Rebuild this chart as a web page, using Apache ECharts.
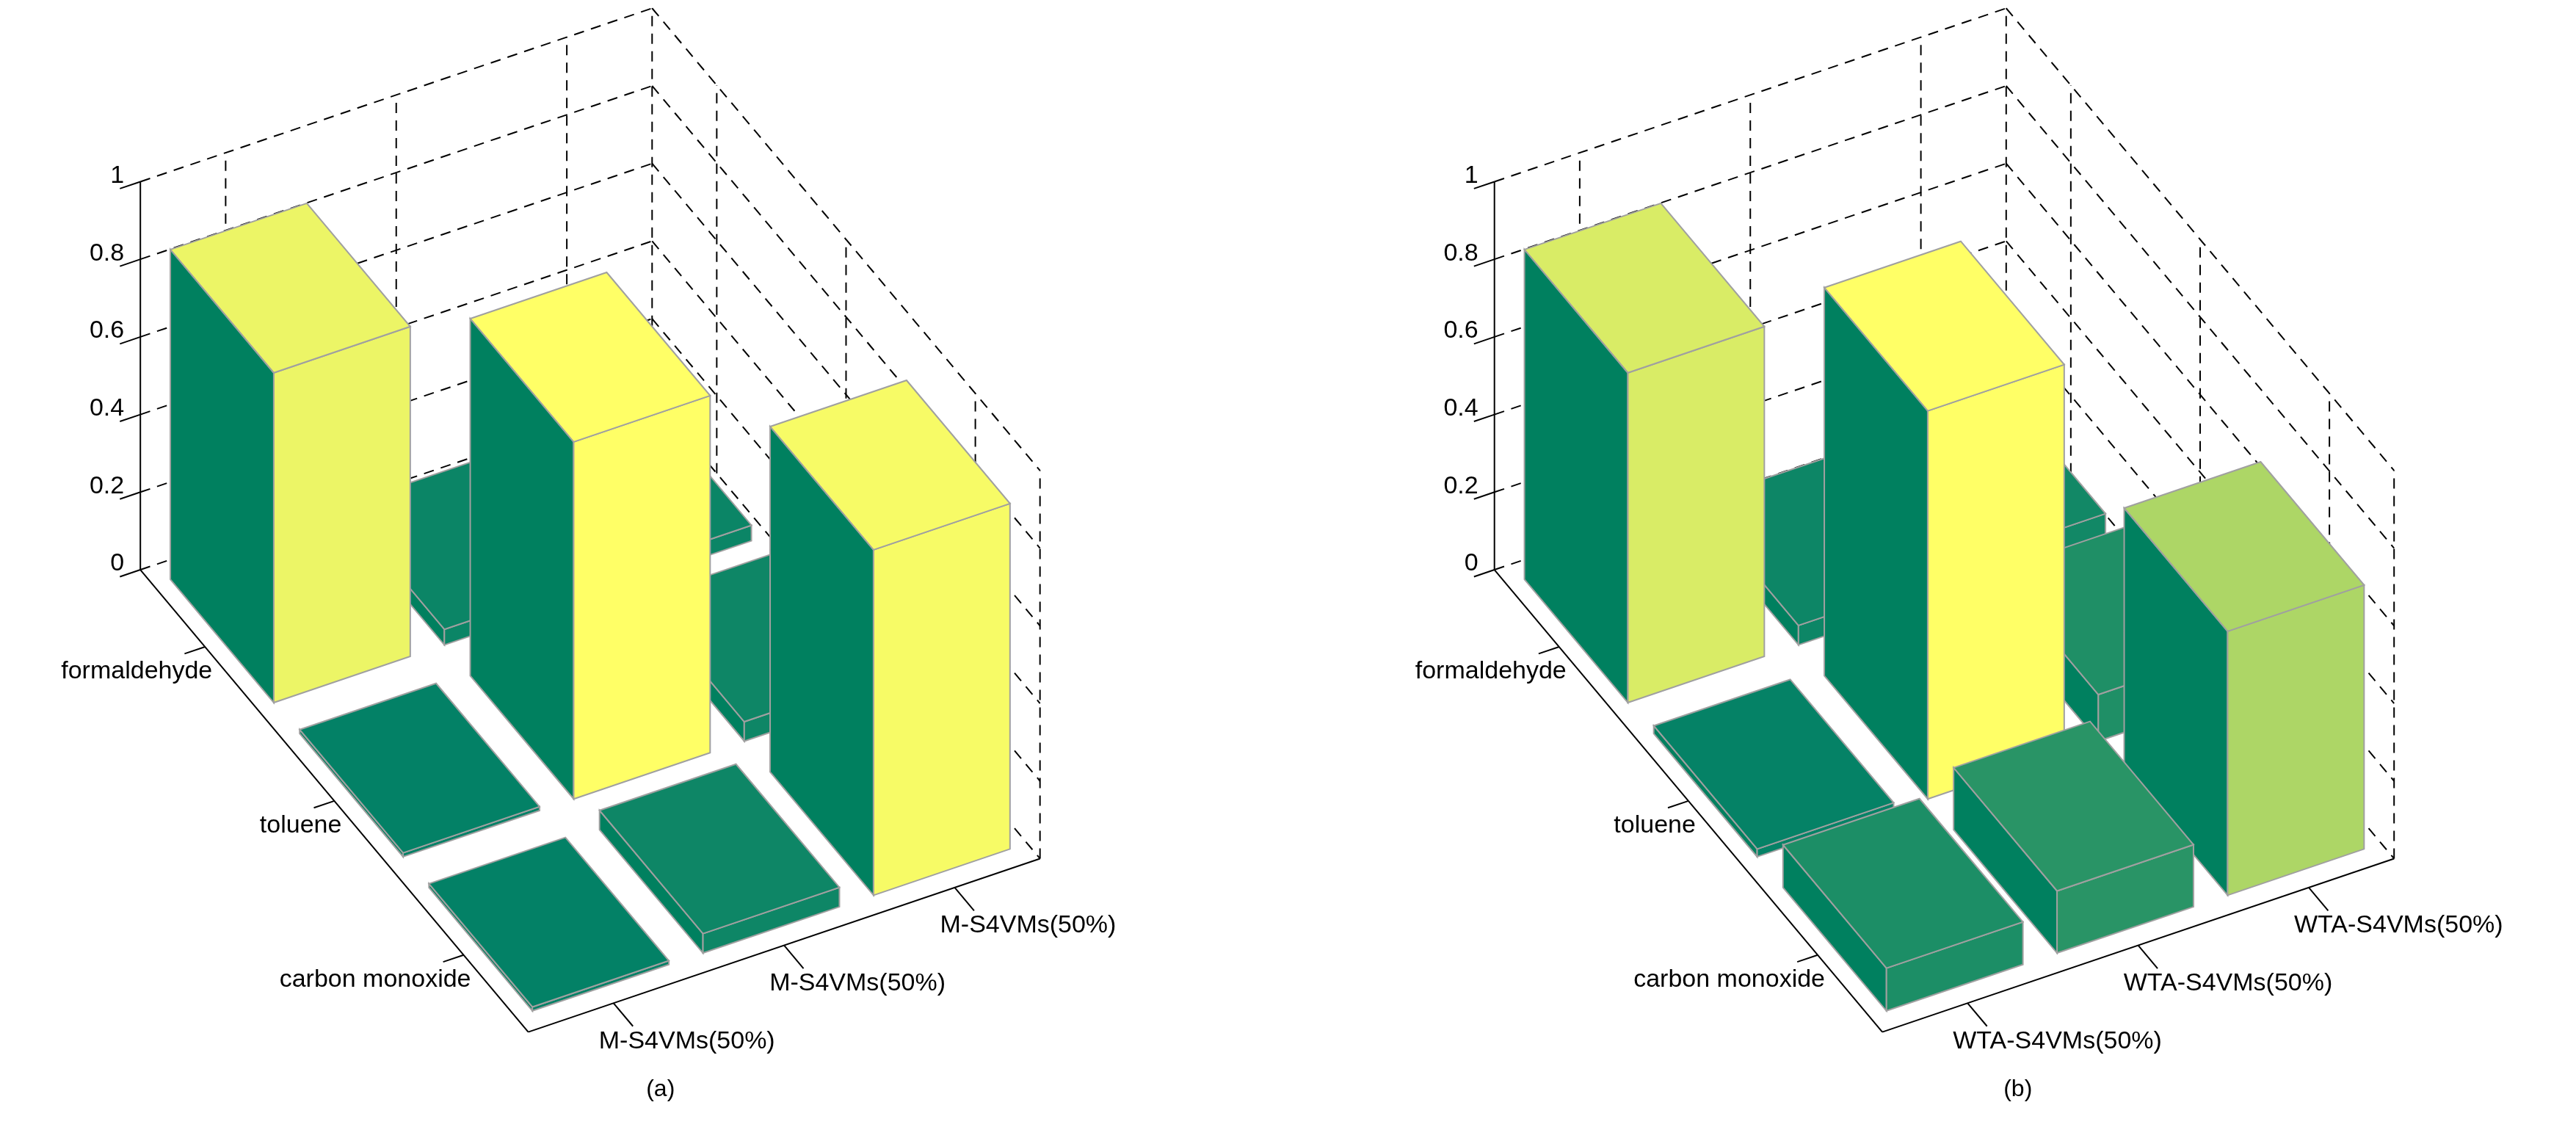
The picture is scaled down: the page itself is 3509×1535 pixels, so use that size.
<!DOCTYPE html>
<html>
<head>
<meta charset="utf-8">
<script src="https://cdn.jsdelivr.net/npm/echarts@6/dist/echarts.min.js"></script>
<style>html,body{margin:0;padding:0;background:#fff}#main{width:3509px;height:1535px}</style>
</head>
<body>
<div id="main"></div>
<script>
// data
var rowNames = ['formaldehyde', 'toluene', 'carbon monoxide'];
var colNamesA = ['M-S4VMs(50%)', 'M-S4VMs(50%)', 'M-S4VMs(50%)'];
var colNamesB = ['WTA-S4VMs(50%)', 'WTA-S4VMs(50%)', 'WTA-S4VMs(50%)'];
var zTicks = [0, 0.2, 0.4, 0.6, 0.8, 1];
// values[row][col]
var valuesA = [
    [0.85, 0.04, 0.04],
    [0.01, 0.92, 0.05],
    [0.01, 0.05, 0.89]
];
var valuesB = [
    [0.85, 0.05, 0.07],
    [0.02, 1.00, 0.12],
    [0.11, 0.16, 0.68]
];

var S = 2.2494;
var FONT = '"Liberation Sans", Arial, sans-serif';

function makeProj(ox, oy) {
    return function(c, r, z) {
        return [S * (ox + c * 103.3 + r * 78.3), S * (oy - c * 35 + r * 93.3 - z * 235)];
    };
}

// summer colormap
function summer(v) {
    v = Math.max(0, Math.min(1, v));
    return 'rgb(' + Math.round(255 * v) + ',' + Math.round(255 * (0.5 + 0.5 * v)) + ',102)';
}

function frame(P, colNames, caption, cx) {
    var els = [];
    var dash = {stroke: '#000', lineWidth: 2, lineDash: [14, 10]};
    function seg(a, b, st) {
        els.push({type: 'line', z: 0, shape: {x1: a[0], y1: a[1], x2: b[0], y2: b[1]}, style: st});
    }
    var solid = {stroke: '#000', lineWidth: 2};
    zTicks.forEach(function(t) {
        if (t > 0) seg(P(0, 0, t), P(3, 0, t), dash);
        seg(P(3, 0, t), P(3, 3, t), dash);
        seg(P(0, 0, t), P(-0.12, 0, t), solid);
        var p = P(0, 0, t);
        els.push({type: 'text', z: 0, style: {text: String(t), x: p[0] - 22, y: p[1] - 8, font: '34px ' + FONT, fill: '#000', align: 'right', verticalAlign: 'middle'}});
    });
    [0.5, 1.5, 2.5, 3].forEach(function(c) { seg(P(c, 0, 0), P(c, 0, 1), dash); });
    [0.5, 1.5, 2.5, 3].forEach(function(r) { seg(P(3, r, 0), P(3, r, 1), dash); });
    seg(P(0, 0, 0), P(3, 0, 0), dash);
    seg(P(0, 0, 0), P(0, 0, 1), solid);
    seg(P(0, 0, 0), P(0, 3, 0), solid);
    seg(P(0, 3, 0), P(3, 3, 0), solid);
    rowNames.forEach(function(n, r) {
        seg(P(0, r + 0.5, 0), P(-0.12, r + 0.5, 0), solid);
        var p = P(0, r + 0.5, 0);
        els.push({type: 'text', z: 0, style: {text: n, x: p[0] + 10, y: p[1] + 34, font: '34px ' + FONT, fill: '#000', align: 'right', verticalAlign: 'middle'}});
    });
    colNames.forEach(function(n, c) {
        seg(P(c + 0.5, 3, 0), P(c + 0.5, 3.15, 0), solid);
        var p = P(c + 0.5, 3, 0);
        els.push({type: 'text', z: 0, style: {text: n, x: p[0] - 20, y: p[1] + 52, font: '34px ' + FONT, fill: '#000', align: 'left', verticalAlign: 'middle'}});
    });
    els.push({type: 'text', z: 0, style: {text: caption, x: S * cx, y: S * 660, font: '32px ' + FONT, fill: '#000', align: 'center', verticalAlign: 'middle'}});
    return els;
}

function barData(vals) {
    var d = [];
    vals.forEach(function(row, r) {
        row.forEach(function(v, c) { d.push([c, r, v]); });
    });
    d.sort(function(a, b) { return (a[1] - a[0]) - (b[1] - b[0]); });
    return d;
}

function barSeries(vals, P) {
    var maxV = 0;
    vals.forEach(function(row) { row.forEach(function(v) { maxV = Math.max(maxV, v); }); });
    return {
        type: 'custom',
        coordinateSystem: 'none',
        z: 5,
        data: barData(vals),
        renderItem: function(params, api) {
            var c = api.value(0), r = api.value(1), h = api.value(2);
            var c0 = c + 0.1, c1 = c + 0.9, r0 = r + 0.1, r1 = r + 0.9;
            var col = summer(h / maxV);
            var edge = {stroke: '#a0a0a0', lineWidth: 2};
            function poly(pts, fill) {
                return {type: 'polygon', shape: {points: pts}, style: {fill: fill, stroke: edge.stroke, lineWidth: edge.lineWidth}};
            }
            return {
                type: 'group',
                children: [
                    poly([P(c0, r0, 0), P(c0, r1, 0), P(c0, r1, h), P(c0, r0, h)], '#00805f'),
                    poly([P(c0, r1, 0), P(c1, r1, 0), P(c1, r1, h), P(c0, r1, h)], col),
                    poly([P(c0, r0, h), P(c1, r0, h), P(c1, r1, h), P(c0, r1, h)], col)
                ]
            };
        }
    };
}

var PA = makeProj(85, 345);
var PB = makeProj(905, 345);

var chart = echarts.init(document.getElementById('main'));
chart.setOption({
    backgroundColor: '#fff',
    animation: false,
    graphic: frame(PA, colNamesA, '(a)', 400).concat(frame(PB, colNamesB, '(b)', 1222)),
    series: [barSeries(valuesA, PA), barSeries(valuesB, PB)]
});
</script>
</body>
</html>
